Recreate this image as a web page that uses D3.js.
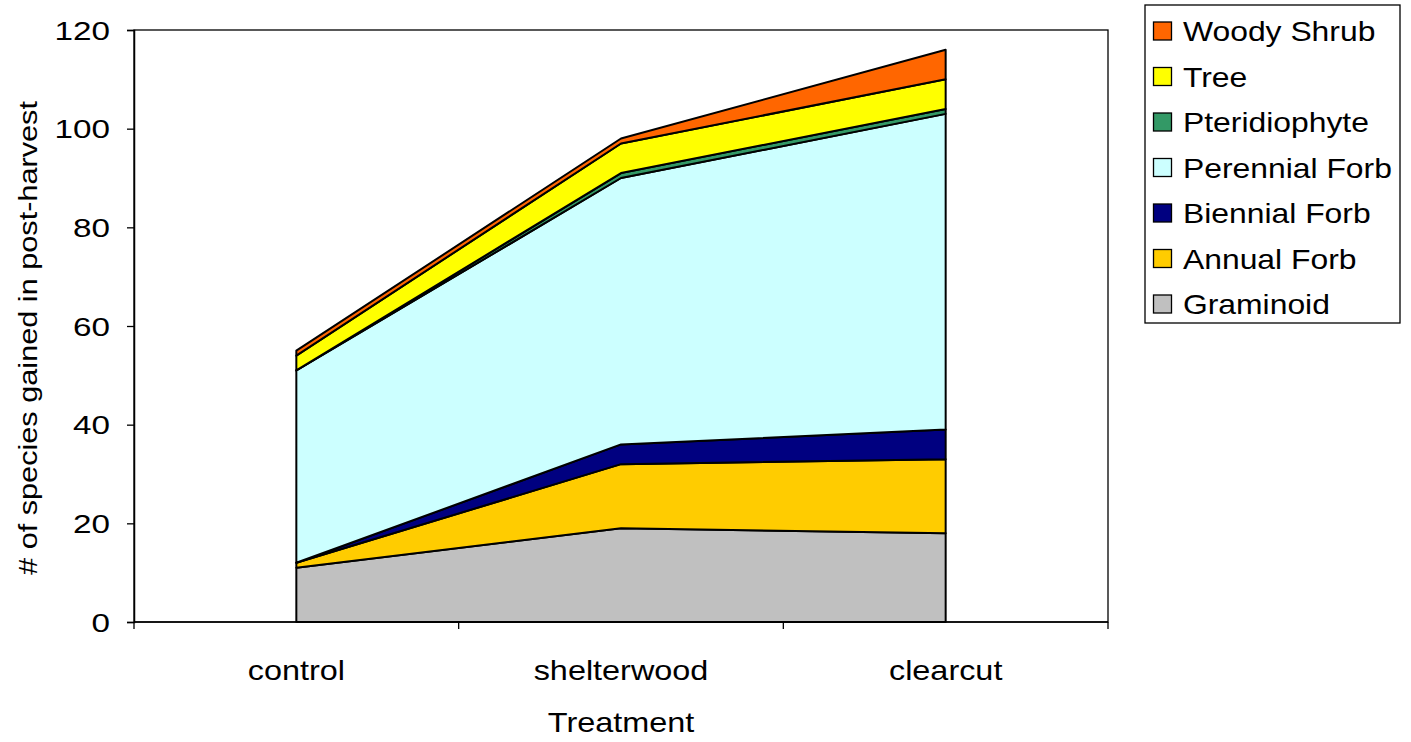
<!DOCTYPE html>
<html>
<head>
<meta charset="utf-8">
<script src="https://cdn.jsdelivr.net/npm/d3@7"></script>
<style>
  body { margin: 0; background: #fff; }
  text { font-family: "Liberation Sans", Arial, sans-serif; fill: #000; }
</style>
</head>
<body>
<div id="chart"></div>
<script>
// categories and values
const treatments = ["control", "shelterwood", "clearcut"];
const groups = ["Graminoid", "Annual Forb", "Biennial Forb", "Perennial Forb", "Pteridiophyte", "Tree", "Woody Shrub"];
const graminoid = [11, 19, 18];
const annualForb = [1, 13, 15];
const biennialForb = [0, 4, 6];
const perennialForb = [39, 54, 64];
const pteridiophyte = [0, 1, 1];
const tree = [3, 6, 6];
const woodyShrub = [1, 1, 6];
const yTicks = [0, 20, 40, 60, 80, 100, 120];

const colors = {
    "Graminoid": "#C0C0C0",
    "Annual Forb": "#FFCC00",
    "Biennial Forb": "#000080",
    "Perennial Forb": "#CCFFFF",
    "Pteridiophyte": "#339966",
    "Tree": "#FFFF00",
    "Woody Shrub": "#FF6600"
};

const series = [graminoid, annualForb, biennialForb, perennialForb, pteridiophyte, tree, woodyShrub];
const rows = treatments.map((t, i) => {
    let row = {treatment: t};
    groups.forEach((g, j) => row[g] = series[j][i]);
    return row;
});

const width = 1411, height = 742;
const margin = {top: 30, right: 303, bottom: 120, left: 134};
const innerW = width - margin.left - margin.right;
const innerH = height - margin.top - margin.bottom;

const svg = d3.select("#chart").append("svg")
    .attr("width", width)
    .attr("height", height);

const g = svg.append("g")
    .attr("transform", `translate(${margin.left},${margin.top})`);

const x = d3.scaleBand().domain(treatments).range([0, innerW]);
const y = d3.scaleLinear().domain([0, 120]).range([innerH, 0]);

// the reference text is drawn a bit wider than the font, so stretch it
function wideText(sel, tx, ty, size, sx, anchor, rot) {
    return sel.append("text")
        .attr("transform", `translate(${tx},${ty})` + (rot ? ` rotate(${rot})` : "") + ` scale(${sx},1)`)
        .attr("text-anchor", anchor)
        .style("font-size", size + "px");
}

const stack = d3.stack().keys(groups);
const layers = stack(rows);

const area = d3.area()
    .x(d => x(d.data.treatment) + x.bandwidth() / 2)
    .y0(d => y(d[0]))
    .y1(d => y(d[1]));

// plot frame
g.append("rect")
    .attr("x", 0).attr("y", 0)
    .attr("width", innerW).attr("height", innerH)
    .attr("fill", "none")
    .attr("stroke", "#000")
    .attr("stroke-width", 1.3);

g.selectAll("path.layer")
    .data(layers)
    .join("path")
    .attr("class", "layer")
    .attr("d", area)
    .attr("fill", d => colors[d.key])
    .attr("stroke", "#000")
    .attr("stroke-width", 2)
    .attr("stroke-linejoin", "round");

// y axis (labels drawn separately so they can be widened)
const yAxis = d3.axisLeft(y).tickValues(yTicks).tickSize(7).tickFormat("");
g.append("g")
    .call(yAxis)
    .call(a => a.select(".domain").attr("stroke-width", 1.5))
    .call(a => a.selectAll("line").attr("stroke-width", 1.3));
yTicks.forEach(v => {
    wideText(g, -24, y(v) + 9.5, 26, 1.28, "end").text(v);
});

// x axis: ticks at band edges, labels at centres
const xa = g.append("g").attr("transform", `translate(0,${innerH})`);
xa.append("line").attr("x1", 0).attr("x2", innerW).attr("stroke", "#000").attr("stroke-width", 1.5);
xa.selectAll("line.tick")
    .data(d3.range(treatments.length + 1))
    .join("line")
    .attr("class", "tick")
    .attr("x1", i => i * x.step()).attr("x2", i => i * x.step())
    .attr("y1", 0).attr("y2", 7)
    .attr("stroke", "#000").attr("stroke-width", 1.3);
treatments.forEach(t => {
    wideText(xa, x(t) + x.bandwidth() / 2, 58, 27, 1.2, "middle").text(t);
});

// axis titles
wideText(g, innerW / 2, innerH + 110, 27, 1.2, "middle").text("Treatment");
wideText(svg, 37, 338, 26, 1.18, "middle", -90).text("# of species gained in post-harvest");

// legend
const legend = svg.append("g").attr("transform", "translate(1145,5)");
legend.append("rect")
    .attr("width", 255).attr("height", 318)
    .attr("fill", "#fff").attr("stroke", "#000").attr("stroke-width", 1.3);

const legendKeys = groups.slice().reverse();
legendKeys.forEach((k, i) => {
    const cy = 26 + i * 45.5;
    legend.append("rect")
        .attr("x", 8.5).attr("y", cy - 9)
        .attr("width", 18).attr("height", 18)
        .attr("fill", colors[k])
        .attr("stroke", "#000").attr("stroke-width", 1.3);
    wideText(legend, 38, cy + 10, 27, 1.18, "start").text(k);
});
</script>
</body>
</html>
